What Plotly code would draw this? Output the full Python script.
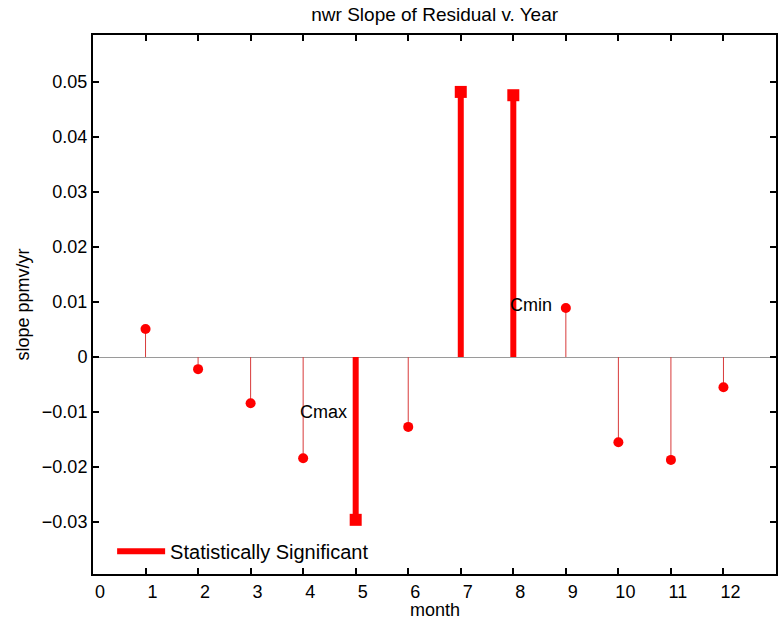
import plotly.graph_objects as go

# Monthly slope of the residual vs. year (ppmv/yr)
months = [1, 2, 3, 4, 5, 6, 7, 8, 9, 10, 11, 12]
slopes = [0.0051, -0.0022, -0.0084, -0.0184, -0.0296, -0.0127,
          0.0482, 0.0476, 0.0089, -0.0155, -0.0187, -0.0055]
significant = [False, False, False, False, True, False,
               True, True, False, False, False, False]

x_ticks = list(range(0, 13))
y_ticks = [-0.03, -0.02, -0.01, 0, 0.01, 0.02, 0.03, 0.04, 0.05]
y_tick_text = ["\u22120.03", "\u22120.02", "\u22120.01", "0",
               "0.01", "0.02", "0.03", "0.04", "0.05"]

notes = [("Cmax", 4.39, -0.0100), ("Cmin", 8.34, 0.0095)]

FONT = "Liberation Sans, Arial, Helvetica, sans-serif"
RED = "#ff0000"


def stems(flag):
    xs, ys = [], []
    for m, s, f in zip(months, slopes, significant):
        if f == flag:
            xs += [m, m, None]
            ys += [0, s, None]
    return xs, ys


fig = go.Figure()

# thin stems for the non-significant months
tx, ty = stems(False)
fig.add_trace(go.Scatter(x=tx, y=ty, mode="lines",
                         line=dict(color="#d83a3a", width=1),
                         showlegend=False, hoverinfo="skip"))
fig.add_trace(go.Scatter(
    x=[m for m, f in zip(months, significant) if not f],
    y=[s for s, f in zip(slopes, significant) if not f],
    mode="markers", marker=dict(symbol="circle", size=10, color=RED,
                                line=dict(width=0)),
    showlegend=False))

# thick stems for the statistically significant months
sx, sy = stems(True)
fig.add_trace(go.Scatter(x=sx, y=sy, mode="lines",
                         line=dict(color=RED, width=6),
                         name="Statistically Significant",
                         showlegend=True, hoverinfo="skip"))
fig.add_trace(go.Scatter(
    x=[m for m, f in zip(months, significant) if f],
    y=[s for s, f in zip(slopes, significant) if f],
    mode="markers", marker=dict(symbol="square", size=12, color=RED,
                                line=dict(width=0)),
    showlegend=False))

for text, nx, ny in notes:
    fig.add_annotation(x=nx, y=ny, text=text, showarrow=False,
                       font=dict(family=FONT, size=18, color="black"),
                       xanchor="center", yanchor="middle")

# x-axis label
fig.add_annotation(x=0.5, y=-36 / 539, xref="paper", yref="paper",
                   text="month", showarrow=False,
                   font=dict(family=FONT, size=18, color="black"),
                   xanchor="center", yanchor="middle")

axis_common = dict(showline=True, linecolor="black", linewidth=2,
                   mirror="ticks", ticks="inside", ticklen=6,
                   tickwidth=1.5, tickcolor="black", showgrid=False,
                   tickfont=dict(family=FONT, size=18, color="black"))

fig.update_xaxes(range=[0, 13], tickmode="array", tickvals=x_ticks,
                 zeroline=False, ticklabelshift=7,
                 **axis_common)
fig.update_yaxes(range=[-0.03945, 0.05855], tickmode="array",
                 tickvals=y_ticks, ticktext=y_tick_text,
                 zeroline=True, zerolinecolor="#9a9a9a", zerolinewidth=1,
                 title=dict(text="slope ppmv/yr", standoff=8,
                            font=dict(family=FONT, size=18, color="black")),
                 **axis_common)

fig.update_layout(
    width=779, height=623,
    margin=dict(l=93, r=3, t=35, b=49, autoexpand=False),
    paper_bgcolor="white", plot_bgcolor="white",
    title=dict(text="nwr Slope of Residual v. Year", x=0.558, xanchor="center",
               y=1 - 14 / 623, yanchor="middle",
               font=dict(family=FONT, size=19, color="black")),
    legend=dict(x=0.028, y=0.006, xanchor="left", yanchor="bottom",
                bgcolor="rgba(0,0,0,0)", borderwidth=0, itemwidth=48,
                font=dict(family=FONT, size=20, color="black")),
    showlegend=True,
)

fig.write_html("out.html")
